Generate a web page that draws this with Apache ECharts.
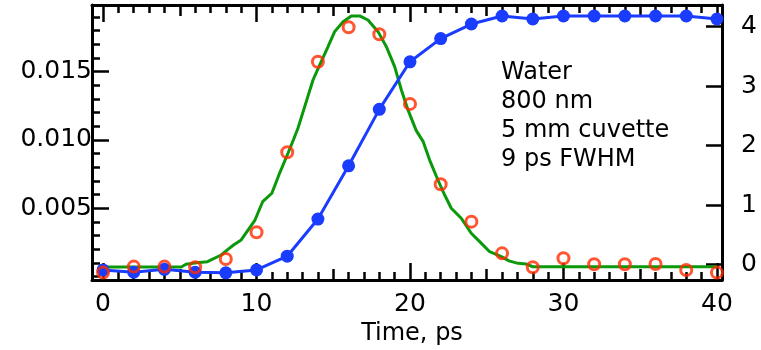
<!DOCTYPE html>
<html>
<head>
<meta charset="utf-8">
<script src="https://cdn.jsdelivr.net/npm/echarts@6/dist/echarts.min.js"></script>
<style>
  html, body { margin: 0; padding: 0; background: #fff; }
  #chart { width: 761px; height: 350px; }
</style>
</head>
<body>
<div id="chart"></div>
<script>
// sample times (ps) for the measured points
const sampleTimes = [0, 2, 4, 6, 8, 10, 12, 14, 16, 18, 20, 22, 24, 26, 28, 30, 32, 34, 36, 38, 40];
// blue filled dots, right axis
const blueValues = [-0.09, -0.13, -0.08, -0.13, -0.14, -0.09, 0.14, 0.765, 1.66, 2.61, 3.41, 3.80, 4.045, 4.18, 4.13, 4.18, 4.18, 4.18, 4.18, 4.18, 4.13];
// red open circles, left axis
const redValues = [0.00029, 0.00073, 0.00073, 0.00068, 0.00129, 0.00324, 0.0091, 0.01573, 0.01825, 0.01774, 0.01264, 0.00676, 0.00402, 0.0017, 0.00068, 0.00134, 0.0009, 0.0009, 0.00092, 0.00048, 0.00029];
// green curve, left axis
const greenTimes = [0, 2, 4, 5.1, 5.4, 6.1, 6.8, 7.7, 8.1, 8.5, 9.0, 9.9, 10.4, 11.0, 11.5, 12.05, 12.4, 12.7, 13.14, 13.68, 14.12, 14.66, 15.09, 15.64, 16.18, 16.72, 17.26, 17.92, 18.46, 19.0, 19.44, 19.87, 20.4, 20.85, 21.28, 21.82, 22.26, 22.69, 23.34, 23.99, 24.54, 25.19, 25.95, 26.45, 27.04, 27.58, 28.0, 30, 35, 40];
const greenValues = [0.0007, 0.0007, 0.0007, 0.0007, 0.0009, 0.00102, 0.00109, 0.00158, 0.00195, 0.00231, 0.00268, 0.00414, 0.00548, 0.0061, 0.00756, 0.00903, 0.0100, 0.01086, 0.01244, 0.01439, 0.01549, 0.01683, 0.01793, 0.01866, 0.01908, 0.01908, 0.01878, 0.01793, 0.01683, 0.01537, 0.01366, 0.0122, 0.0107, 0.0099, 0.00853, 0.00707, 0.00597, 0.005, 0.00427, 0.00317, 0.00256, 0.00182, 0.00146, 0.00115, 0.00097, 0.00092, 0.00072, 0.00072, 0.00072, 0.00072];

// tick positions / labels
const xMajorTicks = [0, 10, 20, 30, 40];
const xMediumTicks = [5, 15, 25, 35];
const xMinorTicks = [1, 2, 3, 4, 6, 7, 8, 9, 11, 12, 13, 14, 16, 17, 18, 19, 21, 22, 23, 24, 26, 27, 28, 29, 31, 32, 33, 34, 36, 37, 38, 39];
const leftMajorTicks = [0.005, 0.010, 0.015];
const leftMinorTicks = [0, 0.001, 0.002, 0.003, 0.004, 0.006, 0.007, 0.008, 0.009, 0.011, 0.012, 0.013, 0.014, 0.016, 0.017, 0.018, 0.019];
const rightTicks = [0, 1, 2, 3, 4];
const noteLines = ['Water', '800 nm', '5 mm cuvette', '9 ps FWHM'];

const FONT = 'DejaVu Sans';
const X_MIN = -0.72, X_MAX = 40.33;
const L_MIN = -0.00025, L_MAX = 0.01988;
const R_MIN = -0.26, R_MAX = 4.365;

const chart = echarts.init(document.getElementById('chart'), null, { renderer: 'canvas' });

function xAxisOf(position, ticks, len, opts) {
  opts = opts || {};
  return {
    type: 'value',
    position: position,
    min: X_MIN,
    max: X_MAX,
    axisLine: { show: !!opts.line, onZero: false, lineStyle: { color: '#000', width: 3 } },
    axisTick: { show: true, inside: true, length: len, customValues: ticks, lineStyle: { color: '#000', width: 2.5 } },
    axisLabel: opts.label ? {
      show: true, customValues: ticks, margin: 12, color: '#000',
      fontFamily: FONT, fontSize: 25
    } : { show: false },
    splitLine: { show: false },
    name: opts.name || '',
    nameLocation: 'middle',
    nameGap: 40,
    nameTextStyle: { color: '#000', fontFamily: FONT, fontSize: 24, padding: [0, 0, 0, 10] }
  };
}

function yAxisOf(position, min, max, ticks, len, opts) {
  opts = opts || {};
  return {
    type: 'value',
    position: position,
    min: min,
    max: max,
    axisLine: { show: !!opts.line, onZero: false, lineStyle: { color: '#000', width: 3 } },
    axisTick: { show: true, inside: true, length: len, customValues: ticks, lineStyle: { color: '#000', width: 2.5 } },
    axisLabel: opts.label ? {
      show: true, customValues: ticks, margin: opts.margin, color: '#000',
      fontFamily: FONT, fontSize: 25, formatter: opts.formatter
    } : { show: false },
    splitLine: { show: false }
  };
}

const option = {
  animation: false,
  backgroundColor: '#fff',
  grid: { left: 92, right: 39, top: 5, bottom: 70, containLabel: false, outerBoundsMode: 'none' },
  xAxis: [
    xAxisOf('bottom', xMajorTicks, 17, { line: true, label: true, name: 'Time, ps' }),
    xAxisOf('bottom', xMediumTicks, 11),
    xAxisOf('bottom', xMinorTicks, 8),
    xAxisOf('top', xMajorTicks, 17, { line: true }),
    xAxisOf('top', xMediumTicks, 11),
    xAxisOf('top', xMinorTicks, 8)
  ],
  yAxis: [
    yAxisOf('left', L_MIN, L_MAX, leftMajorTicks, 17, {
      line: true, label: true, margin: 0,
      formatter: (v) => v.toFixed(3)
    }),
    yAxisOf('left', L_MIN, L_MAX, leftMinorTicks, 8),
    yAxisOf('right', R_MIN, R_MAX, rightTicks, 16, { line: true, label: true, margin: 19 })
  ],
  graphic: noteLines.map((t, i) => ({
    type: 'text',
    left: 501,
    top: 61 + i * 29,
    style: { text: t, fill: '#000', font: '24px "' + FONT + '"' }
  })),
  series: [
    {
      name: 'fit',
      type: 'line',
      xAxisIndex: 0,
      yAxisIndex: 0,
      showSymbol: false,
      data: greenTimes.map((t, i) => [t, greenValues[i]]),
      lineStyle: { color: '#0a990a', width: 3 },
      z: 2
    },
    {
      name: 'rise',
      type: 'line',
      xAxisIndex: 0,
      yAxisIndex: 2,
      symbol: 'circle',
      symbolSize: 13,
      data: sampleTimes.map((t, i) => [t, blueValues[i]]),
      lineStyle: { color: '#1a3cff', width: 3 },
      itemStyle: { color: '#1a3cff' },
      z: 3
    },
    {
      name: 'pulse',
      type: 'scatter',
      xAxisIndex: 0,
      yAxisIndex: 0,
      symbol: 'circle',
      symbolSize: 11,
      data: sampleTimes.map((t, i) => [t, redValues[i]]),
      itemStyle: { color: 'rgba(0,0,0,0)', borderColor: '#ff2a00', borderWidth: 3 },
      z: 4
    }
  ]
};

chart.setOption(option);
</script>
</body>
</html>
